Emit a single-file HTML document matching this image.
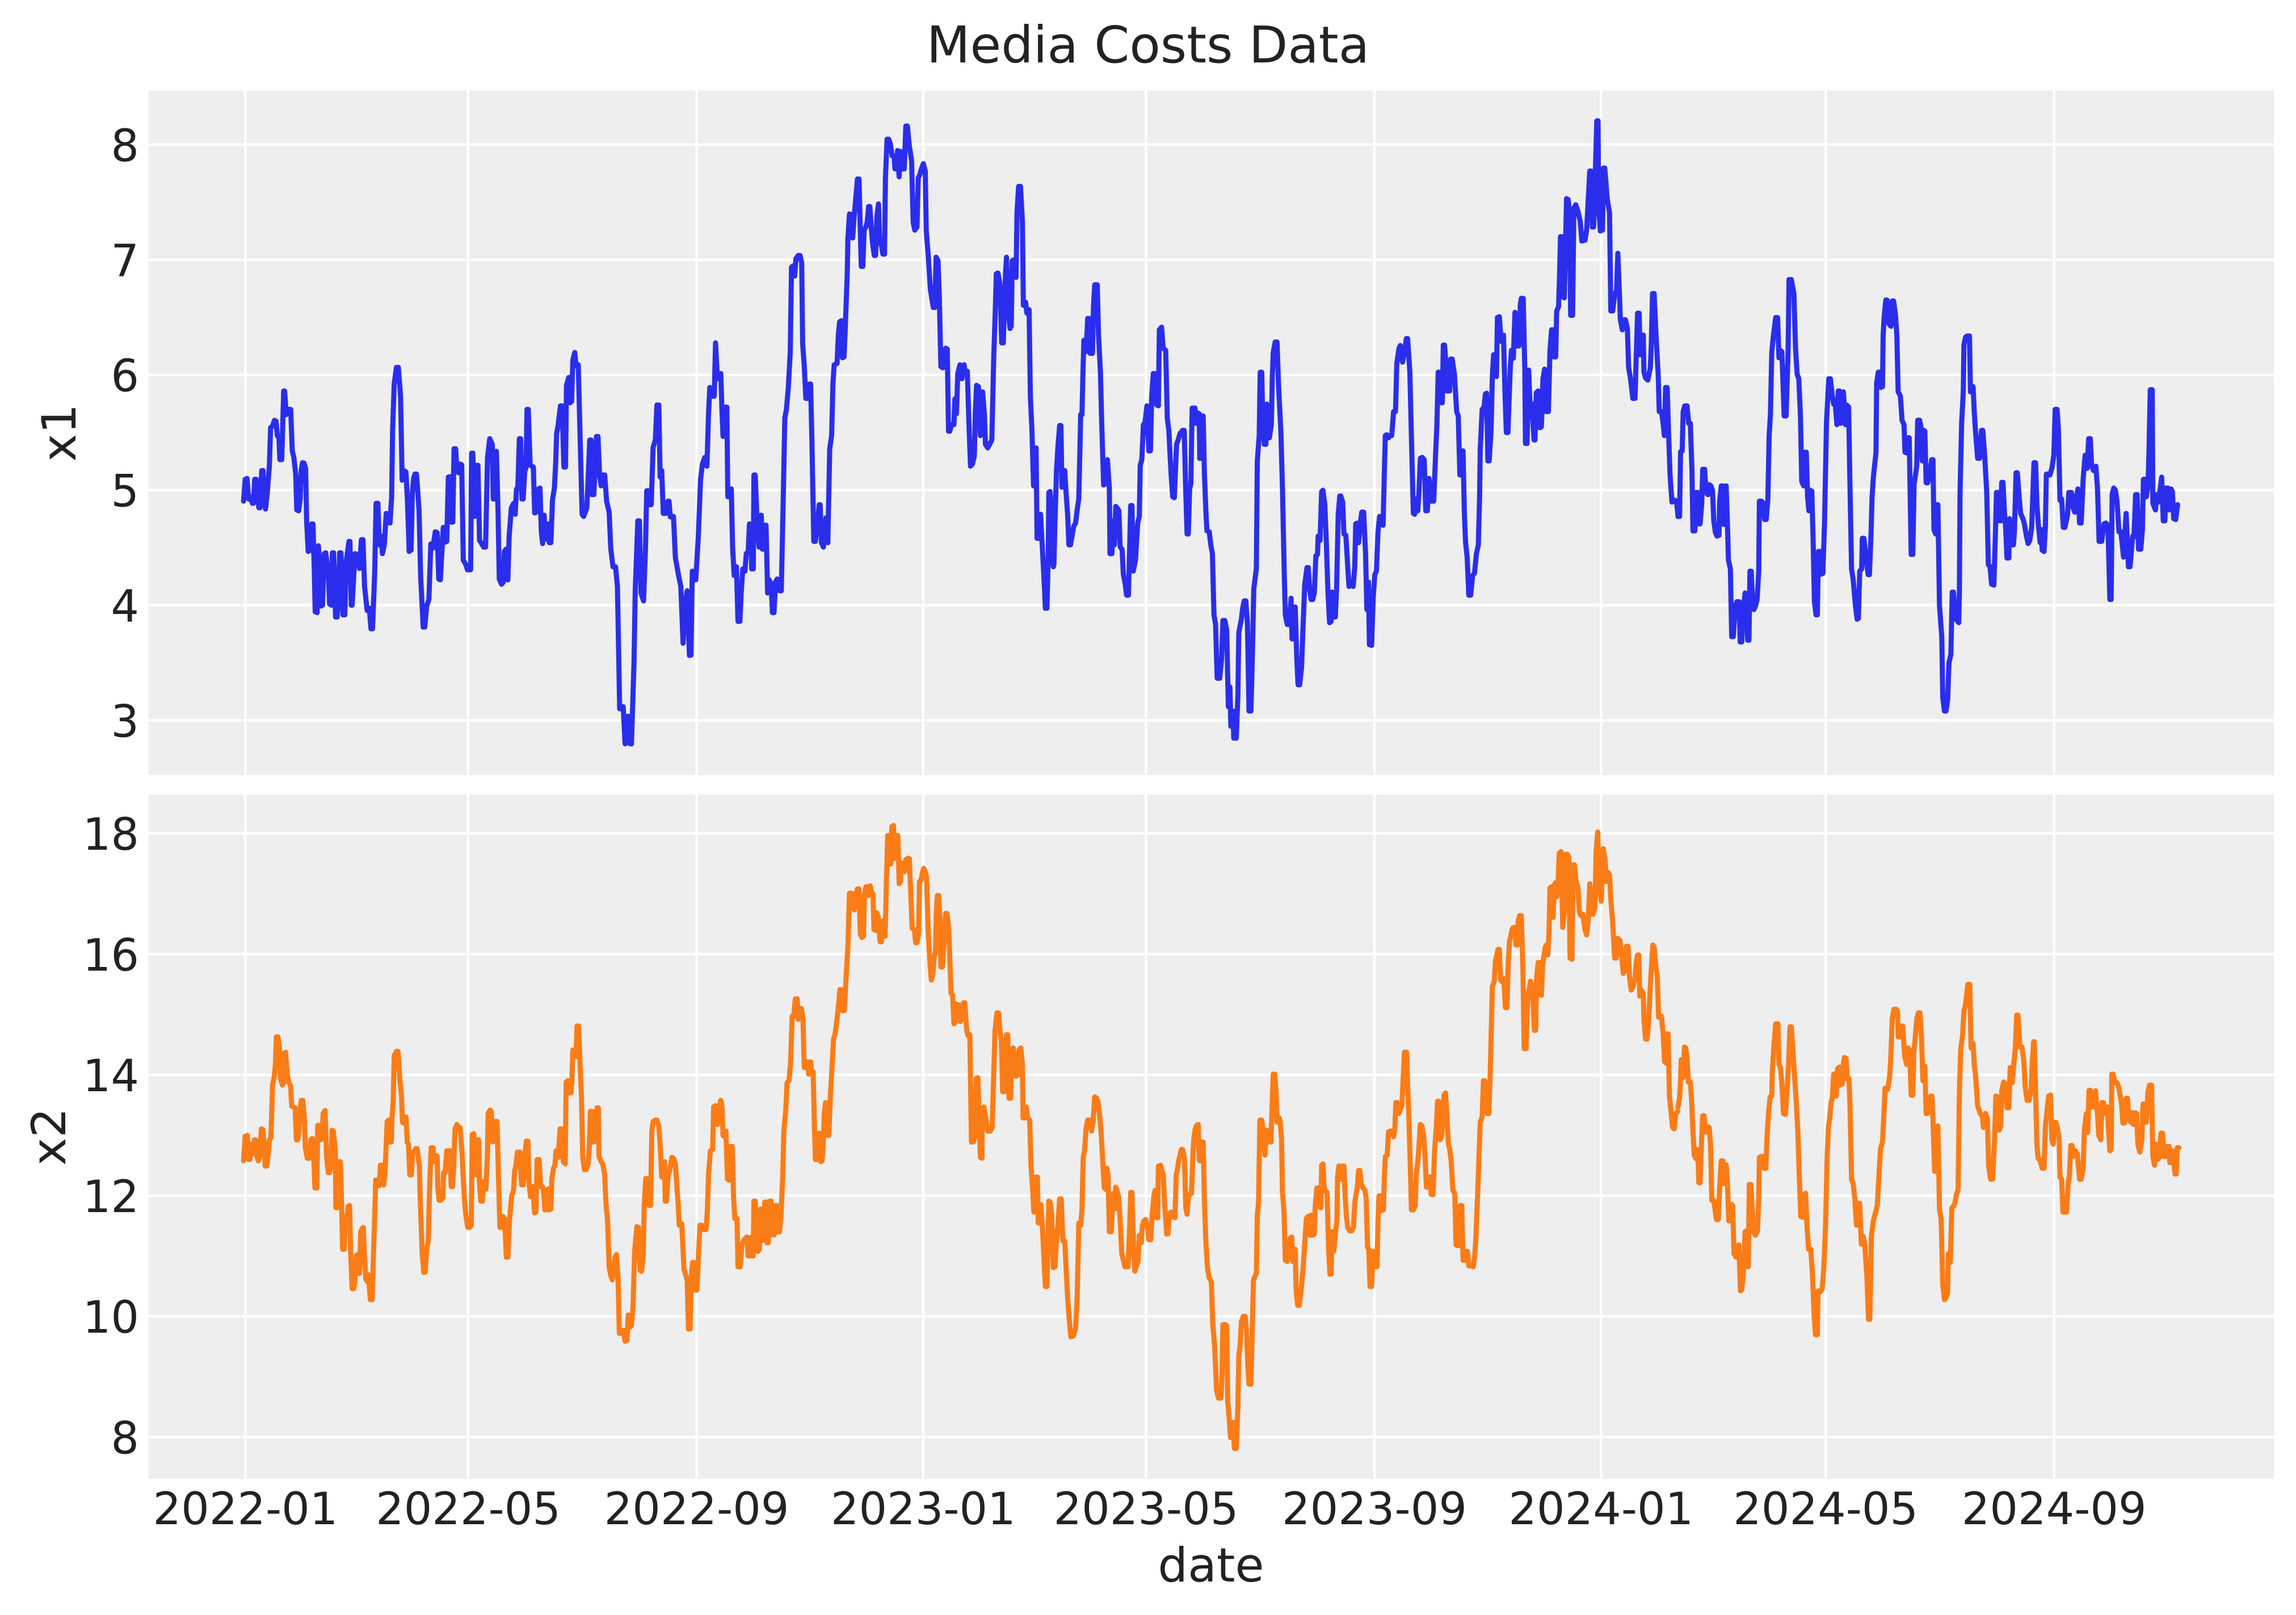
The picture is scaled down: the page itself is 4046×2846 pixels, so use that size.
<!DOCTYPE html>
<html>
<head>
<meta charset="utf-8">
<style>
  html, body { margin: 0; padding: 0; background: #ffffff; }
  svg { display: block; }
  text { font-family: "DejaVu Sans", "Liberation Sans", sans-serif; fill: #222222; }
</style>
</head>
<body>
<svg xmlns="http://www.w3.org/2000/svg" width="4046" height="2846" viewBox="0 0 4046 2846">
  <rect x="0" y="0" width="4046" height="2846" fill="#ffffff"/>

  <!-- Title -->
  <text x="2023" y="110" font-size="89" text-anchor="middle">Media Costs Data</text>

  <!-- ============ TOP AXES ============ -->
  <rect x="261.5" y="159.5" width="3745.5" height="1206.5" fill="#eeeeee"/>
  <g stroke="#ffffff" stroke-width="4.4">
    <line x1="261.5" y1="254.9" x2="4007" y2="254.9"/>
    <line x1="261.5" y1="457.8" x2="4007" y2="457.8"/>
    <line x1="261.5" y1="660.7" x2="4007" y2="660.7"/>
    <line x1="261.5" y1="863.6" x2="4007" y2="863.6"/>
    <line x1="261.5" y1="1066.5" x2="4007" y2="1066.5"/>
    <line x1="261.5" y1="1269.4" x2="4007" y2="1269.4"/>
    <line x1="432.4" y1="159.5" x2="432.4" y2="1366"/>
    <line x1="825.1" y1="159.5" x2="825.1" y2="1366"/>
    <line x1="1227.6" y1="159.5" x2="1227.6" y2="1366"/>
    <line x1="1626.8" y1="159.5" x2="1626.8" y2="1366"/>
    <line x1="2019.5" y1="159.5" x2="2019.5" y2="1366"/>
    <line x1="2422.0" y1="159.5" x2="2422.0" y2="1366"/>
    <line x1="2821.3" y1="159.5" x2="2821.3" y2="1366"/>
    <line x1="3217.2" y1="159.5" x2="3217.2" y2="1366"/>
    <line x1="3619.7" y1="159.5" x2="3619.7" y2="1366"/>
  </g>
  <g font-size="78" text-anchor="end">
    <text x="245" y="283.9">8</text>
    <text x="245" y="486.8">7</text>
    <text x="245" y="689.7">6</text>
    <text x="245" y="892.6">5</text>
    <text x="245" y="1095.5">4</text>
    <text x="245" y="1298.4">3</text>
  </g>
  <text transform="translate(133,762.7) rotate(-90)" font-size="83" text-anchor="middle">x1</text>

  <g fill="none" stroke="#2a2eec" stroke-width="9" stroke-linejoin="round" stroke-linecap="round">
    <polyline vector-effect="non-scaling-stroke" transform="translate(400,159) scale(0.56122,0.77041)" points="52,940 57,890 63,888 68,935 73,930 80,945 83,945 87,890 92,890 97,930 100,955 104,955 109,870 113,870 117,935 121,958 126,925 133,860 137,772 143,768 149,755 154,757 158,790 163,795 166,845 172,845 178,688 181,688 186,742 193,730 200,730 205,825 210,840 216,880 219,960 225,962 230,935 233,870 237,852 242,853 247,865 250,985 255,1055 260,1053 266,992 270,992 274,1095 277,1193 283,1195 287,1042 291,1090 295,1180 300,1178 305,1060 310,1058 318,1100 322,1175 328,1178 331,1058 335,1058 341,1205 346,1205 350,1150 354,1058 358,1058 364,1200 370,1200 374,1080 383,1032 386,1032 390,1178 393,1178 402,1060 408,1062 416,1094 422,1028 427,1028 432,1135 440,1190 447,1185 452,1232 457,1232 464,1100 468,945 474,945 478,1040 484,1020 488,1060 494,1040 500,968 505,970 512,990 517,930 520,780 525,672 532,634 538,634 545,700 550,892 555,870 562,873 567,945 572,1055 578,1052 582,920 586,888 590,878 595,878 603,960 608,1110 616,1228 621,1228 627,1180 634,1165 640,1038 646,1048 654,1010 660,1012 665,1118 670,1120 679,1000 685,1034 690,1032 695,885 701,884 704,988 709,988 713,820 718,820 722,870 727,875 732,855 737,857 742,1075 750,1085 755,1097 765,1097 768,830 772,830 777,975 783,858 788,858 793,1030 798,1035 806,1045 812,1045 818,840 825,797 833,810 836,935 842,935 846,826 851,960 855,1118 862,1130 868,1125 871,1055 876,1050 882,1120 886,1020 893,955 900,945 905,970 909,912 913,912 918,797 922,797 926,935 930,935 935,872 939,862 942,730 946,730 952,858 962,862 966,967 972,965 978,912 983,910 987,1010 991,1037 996,972 1000,1027 1008,992 1012,1035 1017,1035 1022,938 1028,910 1032,855 1035,785 1040,765 1047,722 1052,722 1058,862 1063,862 1066,675 1073,657 1077,715 1082,712 1086,617 1092,600 1096,630 1103,628 1108,772 1115,970 1120,975 1130,955 1135,870 1139,800 1143,800 1146,925 1152,925 1160,792 1165,792 1170,882 1175,905 1181,880 1186,880 1192,940 1200,965 1205,1048 1212,1090 1220,1090 1226,1135 1233,1415 1244,1410 1250,1495 1257,1432 1260,1432 1265,1495 1270,1495 1278,1310 1282,1140 1290,985 1295,985 1300,1150 1308,1168 1314,1050 1318,916 1322,916 1328,948 1332,948 1338,817 1345,800 1350,720 1356,720 1360,885 1365,870 1370,968 1378,968 1385,940 1388,940 1392,976 1402,975 1408,1070 1418,1110 1425,1135 1432,1265 1440,1168 1445,1145 1452,1293 1457,1292 1461,1100 1468,1120 1472,1120 1480,1020 1487,890 1493,855 1500,840 1507,860 1512,740 1516,680 1522,700 1530,700 1534,578 1540,660 1550,648"/>
    <polyline vector-effect="non-scaling-stroke" transform="translate(1250,159) scale(0.56122,0.77041)" points="36,648 40,740 43,792 48,725 55,725 58,930 64,930 69,912 73,1045 78,1110 85,1090 90,1215 96,1215 100,1150 105,1095 112,1100 116,1060 122,1055 126,992 130,995 133,1095 138,1095 140,880 144,880 150,985 156,1045 160,1045 163,972 167,1050 170,1048 175,995 178,995 183,1150 188,1120 194,1130 198,1195 203,1195 208,1125 213,1118 217,1120 221,1145 226,1145 232,935 237,750 242,730 248,680 254,600 258,405 262,402 268,425 272,385 279,378 285,378 290,395 293,580 298,630 303,705 308,705 314,672 318,672 322,800 328,1032 333,1032 338,1000 345,948 348,948 352,1035 358,1045 363,1020 366,978 372,1035 378,820 384,790 388,672 392,628 401,625 405,560 409,530 415,527 418,612 423,610 427,540 433,420 435,340 440,283 446,285 450,338 455,287 460,245 465,203 470,203 474,320 477,403 482,403 486,320 492,312 496,300 500,266 504,266 509,320 513,353 518,378 522,378 526,290 531,260 535,350 540,353 545,375 550,375 553,200 558,112 563,112 568,122 574,150 580,150 583,180 589,180 591,138 596,198 600,140 606,180 612,180 617,82 622,82 628,128 635,160 640,302 645,320 652,313 656,200 660,195 665,182 672,168 678,185 681,320 688,385 694,455 703,497 708,497 712,382 718,390 722,470 727,632 733,635 738,597 742,590 747,592 751,780 755,780 760,765 768,765 771,706 776,740 780,648 787,628 793,660 800,628 804,650 810,643 815,760 820,860 826,855 832,837 835,745 839,675 845,678 851,790 856,690 858,690 864,745 867,810 874,818 880,810 887,800 893,610 898,500 901,420 906,418 912,440 918,578 923,578 930,420 933,382 938,495 944,545 948,540 951,390 955,388 963,428 966,280 971,220 977,220 983,300 986,492 993,485 997,510 1004,502 1008,700 1013,780 1018,905 1024,905 1026,818 1029,1025 1035,1025 1040,970 1047,1065 1052,1135 1055,1185 1060,1185 1064,1070 1066,920 1070,918 1076,990 1080,1090 1082,1085 1085,995 1090,870 1095,810 1100,767 1104,767 1107,908 1112,905 1116,870 1120,920 1125,970 1129,1040 1134,1040 1140,1015 1144,998 1150,990 1155,960 1160,935 1163,840 1166,742 1170,742 1173,650 1176,572 1183,598 1188,522 1192,522 1196,602 1203,602 1206,498 1210,445 1218,445 1222,560 1228,645 1232,760 1238,903 1244,900 1250,845 1256,910 1258,1060 1264,1060 1268,985 1272,1040 1276,952 1280,955 1286,962 1290,1045 1296,1050 1300,1108 1306,1130 1310,1155 1316,1155 1323,950 1327,950 1331,1100 1338,1075 1345,990 1350,975 1353,858 1358,845 1363,765 1368,760 1374,722 1380,825 1385,825 1389,700 1394,648 1399,648 1405,720 1410,722 1413,548 1420,542 1425,590 1433,595 1438,750 1443,780 1447,840 1450,880 1455,930 1460,932 1467,810 1472,800 1478,785 1486,778 1491,778 1496,920 1500,1015 1504,1015 1508,912 1512,900 1516,727 1525,727 1528,762 1533,738 1538,740 1540,840"/>
    <polyline vector-effect="non-scaling-stroke" transform="translate(2100,159) scale(0.56122,0.77041)" points="25,842 28,842 32,745 36,745 40,880 45,970 48,1008 55,1010 60,1040 65,1060 70,1200 75,1222 80,1345 88,1345 94,1300 98,1213 104,1213 110,1235 115,1410 120,1365 123,1455 130,1420 132,1482 140,1482 145,1385 148,1240 152,1225 156,1210 160,1185 165,1168 170,1168 175,1220 180,1420 186,1420 190,1310 195,1140 203,1095 206,848 212,790 215,645 220,645 223,750 228,810 233,810 236,718 240,795 244,795 250,765 253,660 256,600 262,576 268,576 273,680 280,780 285,910 290,1085 294,1200 300,1222 307,1222 312,1162 315,1255 320,1255 325,1182 330,1300 334,1360 339,1360 345,1320 350,1220 355,1130 362,1092 366,1092 370,1140 375,1165 380,1165 385,1150 390,1065 395,1062 397,1020 403,1030 408,918 412,915 418,948 423,1040 428,1150 433,1218 438,1215 441,1148 446,1205 451,1205 455,1140 458,1040 460,970 465,928 468,928 474,942 478,1015 484,1018 490,1090 494,1135 502,1132 507,1135 512,1090 515,992 520,990 524,1035 529,995 534,965 540,965 546,1060 550,1188 555,1125 558,1268 565,1270 570,1160 575,1108 580,1100 585,1010 590,975 596,993 601,995 605,870 608,790 612,788 618,795 622,790 628,790 634,735 640,735 644,625 651,590 655,584 662,622 670,590 674,568 678,568 685,645 690,795 696,968 700,970 705,935 710,962 713,928 718,842 724,840 730,845 735,962 740,962 745,888 752,940 760,940 766,830 770,765 774,645 780,645 784,715 787,715 790,583 794,583 800,640 802,688 810,688 813,615 818,615 825,650 832,735 837,745 842,880 847,880 850,825 852,825 856,965 860,1035 865,1068 870,1155 876,1155 882,1110 888,1105 894,1060 900,1040 904,930 906,820 912,730 918,725 922,695 926,693 930,848 934,848 940,780 944,655 948,605 954,605 957,655 960,520 966,518 970,558 973,575 979,560 984,700 988,783 993,783 1000,640 1004,595 1010,613 1015,508 1020,558 1023,585 1028,585 1032,490 1035,476 1041,476 1046,640 1048,808 1053,808 1058,640 1062,712 1068,718 1075,800 1078,800 1082,692 1088,688 1093,772 1098,770 1103,660 1108,638 1112,735 1120,735 1125,595 1130,548 1135,548 1138,610 1143,610 1146,505 1152,495 1155,425 1158,335 1163,335 1165,472 1170,475 1177,248 1182,250 1186,275 1190,515 1196,515 1200,270 1206,262 1213,278 1220,300 1225,345 1235,343 1240,320 1250,185 1255,185 1258,313 1262,313 1266,225 1272,70 1276,70 1278,270 1283,322 1290,320 1293,178 1297,178 1305,250 1312,280 1316,505 1322,505 1328,465 1334,460 1338,373 1343,465 1346,525 1352,548 1358,525 1362,525 1368,545 1372,635 1378,660 1385,705 1392,705 1396,605 1400,510 1405,510 1408,605 1412,560 1418,560 1420,645 1425,658 1432,663 1440,635 1443,585 1447,465 1452,465 1458,560 1465,655 1468,735 1475,735 1480,760 1484,790 1488,680 1493,680 1497,775 1502,880 1508,942 1512,938 1518,938 1523,945 1527,975"/>
    <polyline vector-effect="non-scaling-stroke" transform="translate(2950,159) scale(0.57398,0.77041)" points="12,975 17,975 20,827 25,825 28,735 33,722 40,722 45,762 50,762 55,870 58,1008 64,1008 68,920 73,920 76,992 80,992 85,945 88,867 94,867 98,920 104,925 108,902 113,905 118,915 122,985 127,1012 132,1020 138,1018 140,940 145,905 150,905 152,993 156,993 160,905 163,970 167,1075 173,1095 177,1250 182,1250 188,1180 193,1170 200,1170 203,1262 208,1262 212,1195 218,1150 222,1152 226,1258 230,1258 233,1100 237,1100 242,1185 245,1188 250,1180 255,1165 260,1100 262,940 268,940 274,945 278,982 283,982 288,935 292,790 296,740 300,600 305,562 312,520 318,520 322,612 326,595 331,598 335,680 338,745 344,745 350,600 353,433 360,433 368,465 373,590 378,650 383,660 388,743 392,895 398,905 402,828 406,828 410,930 414,962 418,915 423,917 427,1030 431,1170 436,1200 440,1200 443,1055 447,1055 452,1107 457,1105 462,990 468,760 475,660 480,660 486,700 490,718 495,718 500,765 504,688 508,688 512,762 516,692 520,690 526,765 530,720 536,725 540,900 545,1095 550,1120 557,1180 562,1210 566,1208 570,1100 576,1095 578,1025 583,1025 590,1075 596,1108 600,1108 605,1010 608,930 612,885 620,828 622,670 627,645 633,645 635,680 640,678 642,560 645,520 650,480 654,480 660,535 666,540 670,482 674,482 680,515 684,560 688,690 692,695 695,700 700,755 706,765 709,828 716,830 718,795 722,795 728,1062 733,1062 737,900 741,882 745,860 748,755 754,755 758,770 762,848 767,778 770,780 774,898 779,898 786,870 791,845 795,845 798,1005 803,1015 806,948 810,948 815,1180 822,1250 825,1390 830,1420 835,1420 840,1395 844,1310 850,1290 854,1148 858,1148 862,1190 866,1210 874,1218 876,1150 878,920 883,760 888,690 890,582 895,565 900,562 907,562 910,690 915,690 918,678 922,740 927,795 932,842 938,842 944,778 948,778 954,840 960,920 965,1085 970,1090 975,1130 982,1132 986,1030 990,920 993,920 998,985 1003,985 1006,897 1010,897 1014,960 1018,1000 1022,1070 1028,1070 1030,980 1036,1040 1042,1040 1045,1010 1050,875 1054,875 1060,935 1064,968 1070,978 1075,990 1082,1020 1087,1037 1092,1030 1098,1000 1105,852 1110,852 1114,945 1118,990 1124,1035 1128,1005 1130,1052 1136,1055 1140,1000 1143,878 1148,878 1154,880 1160,865 1166,835 1170,730 1176,730 1180,775 1185,938 1190,935 1195,1000 1200,1000 1208,972 1212,920 1220,920 1225,955 1230,965 1236,928 1240,912 1245,990 1250,990 1256,890 1262,835 1268,865 1273,797 1278,797 1282,860 1288,870 1295,860 1300,910 1305,1032 1313,1032 1320,992 1326,990 1332,995 1338,1165 1342,1165 1345,925 1350,910 1355,915 1360,940 1366,1010 1372,1010 1380,1068 1388,968 1395,1090 1400,1090 1408,1020 1412,1022 1417,925 1422,925 1426,1050 1433,1050 1438,1005 1441,890 1446,890 1450,930 1455,905 1458,830 1462,685 1468,685 1470,945 1478,960 1482,925 1487,942 1492,915 1497,885 1502,985 1507,985 1510,910 1516,910 1520,960 1526,912 1530,918 1534,980 1540,982 1546,948"/>
  </g>

  <!-- ============ BOTTOM AXES ============ -->
  <rect x="261.5" y="1400" width="3745.5" height="1206" fill="#eeeeee"/>
  <g stroke="#ffffff" stroke-width="4.4">
    <line x1="261.5" y1="1468.5" x2="4007" y2="1468.5"/>
    <line x1="261.5" y1="1681.3" x2="4007" y2="1681.3"/>
    <line x1="261.5" y1="1894.1" x2="4007" y2="1894.1"/>
    <line x1="261.5" y1="2106.9" x2="4007" y2="2106.9"/>
    <line x1="261.5" y1="2319.7" x2="4007" y2="2319.7"/>
    <line x1="261.5" y1="2532.5" x2="4007" y2="2532.5"/>
    <line x1="432.4" y1="1400" x2="432.4" y2="2606"/>
    <line x1="825.1" y1="1400" x2="825.1" y2="2606"/>
    <line x1="1227.6" y1="1400" x2="1227.6" y2="2606"/>
    <line x1="1626.8" y1="1400" x2="1626.8" y2="2606"/>
    <line x1="2019.5" y1="1400" x2="2019.5" y2="2606"/>
    <line x1="2422.0" y1="1400" x2="2422.0" y2="2606"/>
    <line x1="2821.3" y1="1400" x2="2821.3" y2="2606"/>
    <line x1="3217.2" y1="1400" x2="3217.2" y2="2606"/>
    <line x1="3619.7" y1="1400" x2="3619.7" y2="2606"/>
  </g>
  <g font-size="78" text-anchor="end">
    <text x="245" y="1497.5">18</text>
    <text x="245" y="1710.3">16</text>
    <text x="245" y="1923.1">14</text>
    <text x="245" y="2135.9">12</text>
    <text x="245" y="2348.7">10</text>
    <text x="245" y="2561.5">8</text>
  </g>
  <text transform="translate(115,2003) rotate(-90)" font-size="83" text-anchor="middle">x2</text>

  <g font-size="78" text-anchor="middle">
    <text x="432.4" y="2686">2022-01</text>
    <text x="825.1" y="2686">2022-05</text>
    <text x="1227.6" y="2686">2022-09</text>
    <text x="1626.8" y="2686">2023-01</text>
    <text x="2019.5" y="2686">2023-05</text>
    <text x="2422.0" y="2686">2023-09</text>
    <text x="2821.3" y="2686">2024-01</text>
    <text x="3217.2" y="2686">2024-05</text>
    <text x="3619.7" y="2686">2024-09</text>
  </g>
  <text x="2134" y="2787" font-size="83" text-anchor="middle">date</text>

  <g fill="none" stroke="#fa7c17" stroke-width="9" stroke-linejoin="round" stroke-linecap="round">
    <polyline vector-effect="non-scaling-stroke" transform="translate(400,1399) scale(0.56122,0.77168)" points="52,838 57,782 64,780 68,835 72,835 75,800 80,800 83,822 86,790 90,790 93,825 98,838 103,825 108,765 113,767 117,805 120,850 125,850 130,820 133,790 138,785 140,740 143,665 148,648 152,620 155,555 160,555 165,580 168,650 174,665 178,660 180,592 184,590 187,620 190,645 195,660 200,668 203,713 208,715 214,717 218,790 222,790 226,770 230,720 233,700 238,700 243,740 246,808 252,832 260,832 263,790 268,787 272,820 276,900 282,900 285,757 290,757 294,790 298,788 302,730 308,723 313,830 318,865 322,865 326,852 330,768 334,770 340,815 342,945 347,945 350,840 356,840 360,940 363,1040 368,1040 372,965 376,985 380,942 385,940 388,1040 393,1130 398,1130 402,1110 406,1055 410,1052 413,1095 416,1095 420,1000 425,992 428,990 432,1060 436,1108 440,1113 444,1098 450,1155 456,1155 460,1050 464,960 467,882 473,882 478,895 482,848 488,848 492,893 496,870 500,800 503,748 508,745 512,795 516,795 518,740 522,700 525,598 532,588 537,588 543,655 548,690 551,750 556,752 562,738 566,795 570,800 574,870 579,870 583,818 589,818 593,810 597,810 604,850 607,930 613,1050 618,1093 622,1092 627,1040 632,1020 636,905 641,808 647,808 650,840 654,827 660,827 662,900 666,928 672,928 678,922 680,865 685,865 690,815 700,815 704,897 708,897 712,852 716,765 722,755 727,765 732,762 738,820 745,920 750,962 756,990 762,990 767,985 770,778 775,776 780,870 785,790 790,790 793,890 797,930 802,930 806,885 813,903 818,818 820,730 826,722 830,725 834,795 838,790 843,748 848,748 852,860 857,990 862,990 866,965 872,970 877,1058 882,1058 887,975 890,950 894,918 900,905 903,862 907,850 912,818 920,818 925,893 930,893 934,855 937,812 940,793 945,793 948,885 953,920 960,897 966,957 970,955 974,835 980,835 985,897 991,897 995,915 998,950 1003,950 1008,902 1012,950 1017,948 1020,880 1025,856 1030,848 1033,815 1038,818 1040,830 1046,765 1050,765 1056,840 1062,845 1065,658 1070,655 1075,683 1080,683 1083,655 1086,585 1092,585 1096,600 1099,530 1104,530 1108,605 1113,690 1117,828 1122,858 1128,858 1134,845 1138,800 1141,725 1146,725 1148,795 1152,795 1157,750 1162,717 1166,717 1168,828 1175,840 1180,845 1186,870 1190,935 1195,975 1200,1080 1205,1100 1210,1110 1218,1060 1223,1052 1228,1110 1232,1232 1240,1230 1245,1225 1250,1250 1256,1248 1260,1190 1265,1218 1270,1215 1275,1170 1280,1045 1287,988 1292,990 1297,1088 1302,1090 1307,1055 1310,940 1315,878 1322,880 1326,940 1330,940 1334,770 1338,748 1345,745 1350,745 1356,760 1360,800 1365,875 1370,875 1374,840 1376,930 1380,930 1385,872 1390,860 1397,830 1402,832 1408,845 1413,900 1417,940 1420,985 1428,982 1435,1085 1440,1098 1445,1110 1449,1222 1454,1222 1458,1100 1462,1070 1466,1070 1470,1133 1476,1133 1480,1060 1485,985 1490,985 1494,990 1498,995 1504,995 1508,958 1512,870 1518,815 1525,812 1528,715 1533,712 1540,755 1544,720 1550,700"/>
    <polyline vector-effect="non-scaling-stroke" transform="translate(1250,1399) scale(0.56122,0.77168)" points="36,700 40,715 43,780 48,783 52,770 57,880 62,882 67,805 72,805 76,920 80,970 87,970 90,1080 97,1080 102,1030 108,1020 113,1015 118,1012 122,1055 126,1055 130,1013 133,1055 138,1055 140,930 144,930 148,1000 152,1045 157,1040 161,948 166,1020 170,1018 174,932 178,932 181,1025 185,1025 190,930 194,930 198,1007 204,1007 208,940 212,940 216,1000 220,1000 225,965 230,880 234,770 240,722 244,660 250,655 255,615 260,508 265,508 270,468 276,468 279,515 285,490 289,490 294,515 298,625 303,625 308,612 312,640 318,612 322,640 326,635 330,760 333,835 338,835 342,788 345,775 350,840 354,838 357,808 361,730 365,705 370,780 375,780 380,690 385,628 390,560 395,548 400,520 406,480 410,447 414,447 418,495 424,495 430,410 435,350 440,227 446,227 450,248 455,265 460,228 465,217 470,217 474,320 479,328 484,325 487,230 492,212 497,212 500,232 505,210 510,228 514,228 517,310 522,312 526,272 530,280 536,338 540,338 544,290 548,292 552,325 556,200 560,95 565,95 570,160 573,75 578,72 582,148 586,95 592,95 596,205 600,200 603,158 610,165 613,178 617,150 624,147 628,148 632,220 637,307 644,310 648,340 652,340 657,320 660,200 665,197 669,180 673,170 678,178 682,190 687,310 693,390 697,425 702,410 706,372 710,362 713,268 716,232 720,232 724,280 727,395 732,395 738,332 742,273 746,273 752,310 759,455 764,460 768,525 772,522 775,480 779,490 783,482 788,520 792,515 798,477 802,477 808,540 812,552 818,550 823,795 829,795 833,785 838,650 843,648 847,730 851,830 856,832 857,720 862,715 868,740 874,770 882,770 888,762 893,640 897,540 903,500 908,500 912,535 917,565 921,680 926,680 929,590 933,550 937,550 941,695 946,695 950,585 954,580 959,620 963,645 968,642 972,585 978,580 983,620 985,740 990,740 995,715 1000,740 1006,745 1010,850 1015,900 1019,955 1024,955 1027,875 1030,875 1033,980 1038,980 1041,938 1045,980 1050,1050 1055,1125 1060,1125 1066,930 1070,932 1075,960 1080,1082 1085,1080 1090,1020 1095,980 1100,925 1105,925 1110,1020 1116,1022 1120,1080 1125,1150 1130,1200 1135,1240 1143,1238 1150,1220 1155,1150 1160,980 1166,985 1170,950 1174,830 1178,815 1183,765 1188,745 1195,745 1200,770 1205,748 1210,692 1216,695 1220,702 1225,730 1230,770 1236,850 1240,900 1245,903 1248,855 1252,870 1256,1000 1262,1000 1268,913 1272,948 1276,898 1280,905 1285,920 1290,975 1295,1050 1300,1065 1305,1080 1315,1080 1320,985 1323,910 1327,910 1332,1042 1336,1090 1342,1075 1346,1068 1350,1008 1356,1025 1360,985 1365,975 1370,972 1376,990 1380,1018 1386,1018 1390,965 1396,918 1400,905 1404,968 1408,968 1410,850 1417,848 1420,858 1425,868 1430,940 1436,1005 1440,1005 1445,958 1450,955 1455,965 1462,968 1466,870 1470,858 1473,840 1478,825 1482,812 1486,812 1492,835 1496,945 1500,960 1504,922 1508,915 1514,912 1518,830 1521,790 1525,767 1530,757 1535,755 1538,835 1540,836"/>
    <polyline vector-effect="non-scaling-stroke" transform="translate(2100,1399) scale(0.56122,0.77168)" points="25,838 29,838 33,795 36,795 40,930 45,1030 50,1085 55,1105 62,1115 66,1210 72,1260 78,1360 84,1380 92,1380 95,1330 98,1212 106,1212 110,1215 113,1385 118,1430 122,1470 127,1470 130,1435 134,1495 140,1495 145,1400 148,1283 152,1260 156,1205 162,1193 168,1193 172,1225 176,1300 180,1348 186,1348 190,1230 194,1110 200,1100 203,1095 206,965 210,932 214,745 220,745 226,780 230,825 235,768 238,770 244,795 249,795 253,700 256,640 261,640 265,680 268,750 275,740 278,750 282,785 285,910 290,955 294,1065 300,1068 305,1055 309,1015 314,1012 318,1068 321,1040 325,1040 328,1135 333,1168 338,1168 344,1130 350,1085 355,1025 360,970 365,965 372,1008 375,962 378,968 380,1008 385,1005 388,940 393,900 397,900 400,942 406,945 408,848 412,845 416,898 420,908 425,910 430,1040 434,1097 438,1097 440,1000 446,1045 452,1000 456,975 458,875 462,850 466,850 470,880 474,850 478,850 482,920 486,965 490,990 496,998 502,998 508,990 512,935 516,915 520,900 524,860 528,860 532,890 538,900 544,905 548,925 552,1035 556,1040 560,1125 565,1125 570,1045 573,1045 576,1080 582,1080 585,975 588,918 592,918 596,952 602,950 605,875 608,828 614,825 618,772 624,770 630,770 634,783 638,765 641,705 646,705 650,730 655,720 660,712 663,665 668,590 675,590 678,665 682,740 686,840 690,950 696,950 702,940 705,870 710,840 714,800 718,755 723,758 728,780 733,830 737,898 742,898 748,875 752,915 758,915 762,825 765,790 768,762 772,702 776,702 780,790 785,782 790,730 792,688 797,683 800,718 806,800 810,810 815,840 820,905 826,912 830,1030 838,1032 843,940 848,940 852,1065 858,1065 862,1045 866,1045 870,1078 878,1078 884,1080 888,1060 892,1020 898,912 902,830 906,750 912,738 916,655 920,655 924,700 928,730 933,730 937,650 940,560 944,440 950,428 954,380 958,368 962,355 966,355 970,425 976,430 980,422 985,488 990,488 994,385 998,335 1002,325 1006,310 1010,305 1015,305 1018,345 1023,345 1025,290 1030,278 1035,278 1040,400 1044,582 1050,582 1055,460 1060,445 1064,428 1068,440 1072,480 1076,540 1080,540 1083,420 1088,385 1092,385 1095,458 1098,460 1102,390 1106,370 1110,350 1114,345 1118,368 1122,318 1125,215 1130,212 1135,282 1138,210 1142,203 1146,235 1150,215 1154,135 1160,132 1165,305 1170,270 1175,138 1180,138 1184,145 1188,375 1194,378 1198,162 1202,162 1207,200 1213,215 1217,268 1222,278 1228,275 1235,310 1240,322 1245,290 1250,205 1255,270 1260,275 1266,260 1270,130 1275,87 1280,210 1286,245 1292,125 1298,150 1302,200 1308,180 1312,185 1316,240 1322,295 1328,375 1333,375 1338,330 1345,335 1350,368 1355,410 1360,405 1365,348 1370,348 1375,420 1380,448 1386,440 1392,420 1396,385 1400,368 1404,368 1407,462 1412,448 1418,455 1420,515 1425,560 1430,560 1434,530 1440,440 1444,390 1448,345 1452,350 1458,398 1462,415 1466,510 1475,508 1480,545 1485,612 1490,615 1493,548 1496,548 1500,690 1505,725 1510,762 1515,765 1520,730 1526,725"/>
    <polyline vector-effect="non-scaling-stroke" transform="translate(2950,1399) scale(0.57398,0.77168)" points="12,715 17,695 20,650 22,607 26,607 28,648 32,578 36,580 40,605 44,658 50,658 54,700 58,770 62,825 67,833 70,812 73,815 76,888 80,888 84,800 88,735 92,735 96,772 100,772 103,760 108,762 112,800 116,928 122,928 126,950 130,972 136,972 140,900 145,838 150,838 152,890 155,847 160,847 164,890 168,975 172,975 175,937 180,940 184,1050 190,1058 194,1040 199,1030 204,1135 208,1132 214,1085 218,1000 222,998 228,1080 231,892 236,892 240,950 245,1002 250,1008 256,998 260,925 262,830 268,828 272,828 276,855 282,855 285,790 290,730 295,692 300,690 302,630 306,582 312,525 319,525 322,617 327,625 331,660 336,730 342,732 348,665 352,610 356,532 360,532 364,575 370,645 375,700 380,770 384,860 389,965 395,967 400,915 404,912 408,985 413,1040 420,1040 425,1098 430,1190 434,1235 440,1235 442,1135 448,1138 455,1130 460,1080 465,990 470,830 474,760 478,740 482,705 486,695 490,640 494,640 498,690 502,628 507,624 510,665 516,663 520,615 523,602 528,604 532,652 537,650 540,705 545,880 550,890 555,925 560,985 565,935 570,935 575,1028 580,1010 585,1025 592,1100 597,1200 601,1200 606,1010 612,975 618,958 624,940 630,860 634,810 640,795 644,735 648,672 652,675 656,675 662,645 666,595 670,512 675,492 682,492 686,496 688,555 693,555 698,530 702,530 708,598 714,618 718,580 723,585 728,688 733,688 736,592 740,562 745,515 750,500 755,500 760,560 764,655 770,622 774,730 778,730 782,700 788,690 792,690 796,770 800,862 806,760 810,758 815,950 820,970 825,1120 830,1155 835,1150 840,1140 842,1050 848,1070 853,945 858,942 862,935 868,912 872,905 876,685 880,585 886,550 890,495 894,485 898,460 902,435 908,435 912,580 918,570 922,620 926,645 932,712 940,730 946,735 950,762 956,730 962,742 966,850 972,880 978,880 984,790 988,690 994,692 998,768 1003,758 1006,678 1012,658 1018,662 1022,717 1028,717 1032,625 1038,660 1042,625 1048,580 1052,505 1056,505 1062,578 1068,578 1074,610 1078,668 1084,700 1090,700 1096,680 1100,610 1104,566 1106,566 1110,680 1114,800 1118,833 1124,836 1130,855 1136,855 1140,760 1145,725 1150,690 1156,688 1160,790 1164,800 1168,750 1172,750 1176,760 1182,785 1185,875 1190,880 1194,955 1200,955 1205,955 1210,890 1214,870 1218,803 1222,803 1226,828 1232,815 1238,822 1245,880 1250,880 1256,855 1260,765 1266,730 1270,773 1274,677 1278,677 1282,715 1288,715 1294,678 1300,730 1304,780 1310,790 1314,705 1318,705 1324,730 1330,715 1334,765 1338,815 1342,812 1344,640 1348,640 1354,660 1360,660 1366,672 1370,690 1374,708 1378,752 1383,752 1388,695 1392,695 1396,740 1402,750 1406,728 1410,755 1415,728 1420,730 1424,800 1430,818 1436,790 1440,708 1445,708 1450,750 1455,680 1460,665 1466,665 1470,828 1475,848 1480,800 1485,835 1490,830 1495,775 1500,775 1504,828 1510,828 1514,805 1520,805 1522,842 1526,842 1530,815 1534,840 1538,868 1542,868 1545,808 1550,808"/>
  </g>
</svg>
</body>
</html>
